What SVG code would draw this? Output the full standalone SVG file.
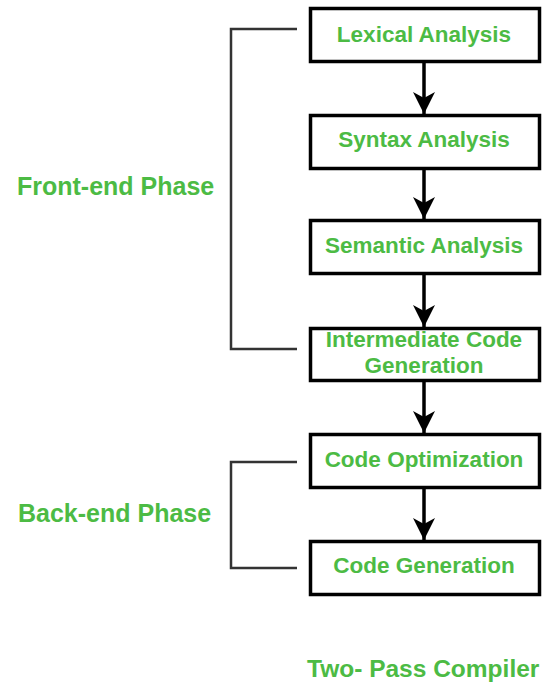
<svg xmlns="http://www.w3.org/2000/svg" width="547" height="694" viewBox="0 0 547 694">
<style>
.box{fill:#fff;stroke:#000;stroke-width:3.5}
.lbl{font-family:"Liberation Sans",Arial,sans-serif;font-weight:bold;fill:#4CBB44;text-anchor:middle}
.bt{font-size:22.5px}
.ph{font-size:25px;text-anchor:start}
.arr{stroke:#000;stroke-width:3.5;fill:none}
.br{stroke:#333;stroke-width:2.5;fill:none}
</style>
<defs>
<marker id="ah" markerUnits="userSpaceOnUse" markerWidth="22" markerHeight="22" viewBox="0 0 22 22" refX="22" refY="11" orient="auto">
<path d="M0,0 L22,11 L0,22 L6,11 z" fill="#000"/>
</marker>
</defs>
<rect width="547" height="694" fill="#fff"/>
<g id="connectors">
<line class="arr" x1="424" y1="62" x2="424" y2="114" marker-end="url(#ah)"/>
<line class="arr" x1="424" y1="169" x2="424" y2="219" marker-end="url(#ah)"/>
<line class="arr" x1="424" y1="274" x2="424" y2="327" marker-end="url(#ah)"/>
<line class="arr" x1="424" y1="381" x2="424" y2="433" marker-end="url(#ah)"/>
<line class="arr" x1="424" y1="488" x2="424" y2="540" marker-end="url(#ah)"/>
</g>
<g id="front-end-bracket">
<polyline class="br" points="297,29 231,29 231,349 297,349"/>
<text class="lbl ph" x="17" y="195">Front-end Phase</text>
</g>
<g id="back-end-bracket">
<polyline class="br" points="297,462 231,462 231,568 297,568"/>
<text class="lbl ph" x="18" y="522">Back-end Phase</text>
</g>
<g id="lexical">
<rect class="box" x="310.5" y="8.5" width="229" height="53"/>
<text class="lbl bt" x="424" y="42">Lexical Analysis</text>
</g>
<g id="syntax">
<rect class="box" x="310.5" y="115.5" width="229" height="53"/>
<text class="lbl bt" x="424" y="147">Syntax Analysis</text>
</g>
<g id="semantic">
<rect class="box" x="310.5" y="220.5" width="229" height="53"/>
<text class="lbl bt" x="424" y="253">Semantic Analysis</text>
</g>
<g id="intermediate">
<rect class="box" x="310.5" y="328.5" width="229" height="52"/>
<text class="lbl bt" x="424" y="347">Intermediate Code</text>
<text class="lbl bt" x="424" y="373">Generation</text>
</g>
<g id="optimization">
<rect class="box" x="310.5" y="434.5" width="229" height="53"/>
<text class="lbl bt" x="424" y="467">Code Optimization</text>
</g>
<g id="codegen">
<rect class="box" x="310.5" y="541.5" width="229" height="53"/>
<text class="lbl bt" x="424" y="573">Code Generation</text>
</g>
<text class="lbl" x="307" y="677" style="font-size:24.5px;text-anchor:start">Two- Pass Compiler</text>
</svg>
